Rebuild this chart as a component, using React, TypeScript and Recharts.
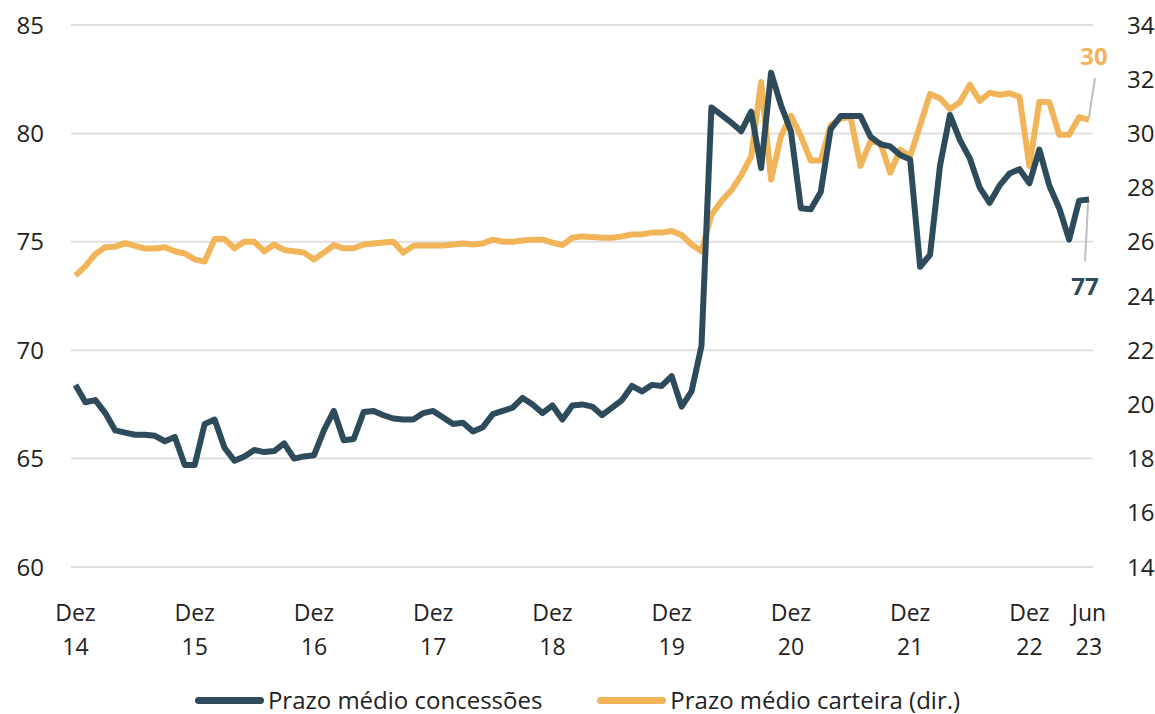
import React from 'react';
import { LineChart, Line, XAxis, YAxis, CartesianGrid, Legend } from 'recharts';

// Prazo médio (meses), mensal de Dez 14 a Jun 23
const concessoes = [
  68.4, 67.6, 67.7, 67.1, 66.3, 66.2, 66.1, 66.1, 66.05, 65.8, 66.0, 64.7,
  64.7, 66.6, 66.8, 65.5, 64.9, 65.1, 65.4, 65.3, 65.35, 65.7, 65.0, 65.1,
  65.15, 66.3, 67.2, 65.85, 65.9, 67.15, 67.2, 67.0, 66.85, 66.8, 66.8, 67.1,
  67.2, 66.9, 66.6, 66.65, 66.25, 66.45, 67.05, 67.2, 67.35, 67.8, 67.5, 67.1,
  67.45, 66.8, 67.45, 67.5, 67.4, 67.0, 67.35, 67.7, 68.35, 68.1, 68.4, 68.35,
  68.8, 67.4, 68.1, 70.2, 81.2, 80.85, 80.5, 80.1, 81.0, 78.4, 82.8, 81.3,
  80.1, 76.55, 76.5, 77.3, 80.2, 80.8, 80.8, 80.8, 79.85, 79.5, 79.4, 79.0,
  78.8, 73.85, 74.4, 78.5, 80.85, 79.7, 78.85, 77.5, 76.8, 77.6, 78.15, 78.35,
  77.7, 79.25, 77.6, 76.55, 75.1, 76.9, 76.95,
];

const carteira = [
  24.75, 25.1, 25.55, 25.8, 25.82, 25.95, 25.85, 25.75, 25.75, 25.8, 25.65, 25.57,
  25.35, 25.27, 26.1, 26.1, 25.76, 26.0, 26.0, 25.65, 25.9, 25.7, 25.65, 25.6,
  25.35, 25.6, 25.88, 25.76, 25.76, 25.9, 25.94, 25.97, 26.0, 25.6, 25.85, 25.86,
  25.86, 25.86, 25.9, 25.94, 25.9, 25.94, 26.08, 26.0, 26.0, 26.05, 26.08, 26.08,
  25.97, 25.88, 26.15, 26.2, 26.18, 26.15, 26.15, 26.2, 26.27, 26.28, 26.34, 26.34,
  26.4, 26.25, 25.9, 25.65, 27.0, 27.5, 27.9, 28.45, 29.15, 31.9, 28.3, 29.9,
  30.65, 29.9, 29.0, 29.0, 30.3, 30.55, 30.6, 28.8, 29.7, 29.65, 28.55, 29.4,
  29.15, 30.3, 31.45, 31.3, 30.9, 31.15, 31.8, 31.2, 31.5, 31.42, 31.48, 31.35,
  28.8, 31.17, 31.15, 29.95, 29.95, 30.6, 30.5,
];

const xTicks = [0, 12, 24, 36, 48, 60, 72, 84, 96, 102];
const xTickLabels = [
  ['Dez', '14'], ['Dez', '15'], ['Dez', '16'], ['Dez', '17'], ['Dez', '18'],
  ['Dez', '19'], ['Dez', '20'], ['Dez', '21'], ['Dez', '22'], ['Jun', '23'],
];
const leftTicks = [60, 65, 70, 75, 80, 85];
const rightTicks = [14, 16, 18, 20, 22, 24, 26, 28, 30, 32, 34];

const DARK = '#2e4b5b';
const ORANGE = '#f2b458';
const FONT = '"Open Sans", "DejaVu Sans", sans-serif';

const data = concessoes.map((v, i) => ({ i, concessoes: v, carteira: carteira[i] }));
const LAST = data.length - 1;

const XTick = (props: any) => {
  const { x, y, payload } = props;
  const idx = xTicks.indexOf(payload.value);
  const lbl = xTickLabels[idx] || ['', ''];
  return (
    <g>
      <text x={x} y={y + 46} textAnchor="middle" fontSize={23} fill="#222" fontFamily={FONT}>{lbl[0]}</text>
      <text x={x} y={y + 80} textAnchor="middle" fontSize={23} fill="#222" fontFamily={FONT}>{lbl[1]}</text>
    </g>
  );
};

const carteiraLabel = (props: any) => {
  const { x, y, index } = props;
  if (index !== LAST) return null;
  return (
    <g>
      <line x1={x} y1={y - 3} x2={x + 6} y2={y - 42} stroke="#bfbfbf" strokeWidth={2} />
      <text x={x + 5} y={y - 55} textAnchor="middle" fontSize={24} fontWeight={700} fill={ORANGE} fontFamily={FONT}>30</text>
    </g>
  );
};

const concessoesLabel = (props: any) => {
  const { x, y, index } = props;
  if (index !== LAST) return null;
  return (
    <g>
      <line x1={x - 1} y1={y + 4} x2={x - 4} y2={y + 62} stroke="#bfbfbf" strokeWidth={2} />
      <text x={x - 4} y={y + 95} textAnchor="middle" fontSize={24} fontWeight={700} fill={DARK} fontFamily={FONT}>77</text>
    </g>
  );
};

const LegendContent = () => (
  <div style={{ height: 47, boxSizing: 'border-box', paddingTop: 18, display: 'flex', justifyContent: 'center', fontFamily: FONT, fontSize: 24, color: '#222' }}>
    {[
      { name: 'Prazo médio concessões', color: DARK },
      { name: 'Prazo médio carteira (dir.)', color: ORANGE },
    ].map((it, k) => (
      <div key={k} style={{ display: 'flex', alignItems: 'center', marginLeft: k ? 55 : 0, height: 30 }}>
        <span style={{ display: 'inline-block', width: 69, height: 7, borderRadius: 4, background: it.color, marginRight: 4 }} />
        <span style={{ lineHeight: '30px', whiteSpace: 'nowrap' }}>{it.name}</span>
      </div>
    ))}
  </div>
);

export default function App() {
  return (
    <div style={{ position: 'absolute', top: 0, left: 0, width: 1155, height: 714, background: '#fff' }}>
      <LineChart width={1155} height={714} data={data} margin={{ top: 25, right: 0, bottom: 0, left: 0 }}>
        <CartesianGrid yAxisId="left" vertical={false} stroke="#e0e0e0" strokeWidth={2} />
        <XAxis
          dataKey="i"
          type="number"
          domain={[-0.45, 102.4]}
          ticks={xTicks}
          interval={0}
          height={100}
          tick={<XTick />}
          tickLine={false}
          axisLine={false}
          allowDataOverflow
        />
        <YAxis
          yAxisId="left"
          domain={[60, 85]}
          ticks={leftTicks}
          width={71}
          tickLine={false}
          axisLine={false}
          tickMargin={21}
          tick={{ fontSize: 24, fill: '#222', fontFamily: FONT }}
        />
        <YAxis
          yAxisId="right"
          orientation="right"
          domain={[14, 34]}
          ticks={rightTicks}
          width={62}
          tickLine={false}
          axisLine={false}
          tickSize={6}
          tickMargin={21}
          tick={{ fontSize: 24, fill: '#222', fontFamily: FONT, dx: 7 }}
        />
        <Legend verticalAlign="bottom" height={47} content={<LegendContent />} />
        <Line
          yAxisId="right"
          type="linear"
          dataKey="carteira"
          name="Prazo médio carteira (dir.)"
          stroke={ORANGE}
          strokeWidth={6}
          strokeLinejoin="round"
          dot={false}
          isAnimationActive={false}
          label={carteiraLabel}
        />
        <Line
          yAxisId="left"
          type="linear"
          dataKey="concessoes"
          name="Prazo médio concessões"
          stroke={DARK}
          strokeWidth={6}
          strokeLinejoin="round"
          dot={false}
          isAnimationActive={false}
          label={concessoesLabel}
        />
      </LineChart>
    </div>
  );
}
